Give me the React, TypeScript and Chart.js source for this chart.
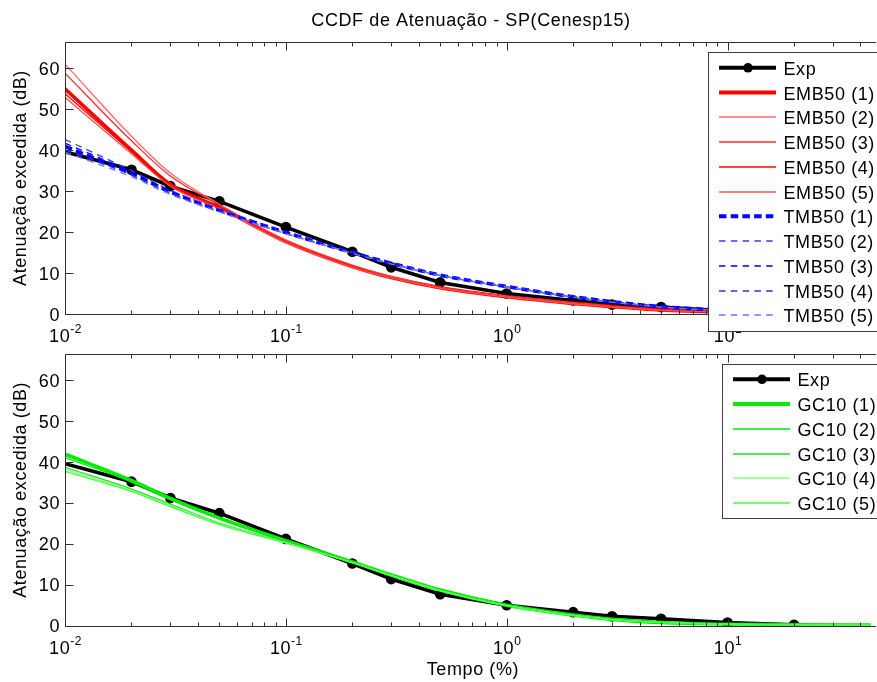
import React, { useEffect, useRef } from "react";
import { Chart, registerables } from "chart.js";

Chart.register(...registerables);

// ---------------- data ----------------
const expTime = [0.01, 0.02, 0.03, 0.05, 0.1, 0.2, 0.3, 0.5, 1, 2, 3, 5, 10, 20];
const expAtt = [39.6, 35.2, 31.2, 27.5, 21.2, 15.2, 11.4, 7.7, 5.0, 3.3, 2.3, 1.7, 0.75, 0.2];

const modelTime = [0.01, 0.02, 0.03, 0.05, 0.1, 0.2, 0.3, 0.5, 1, 2, 3, 5, 10, 20, 50];

const emb50_1 = [55.0, 40.0, 31.6, 26.0, 17.7, 11.6, 8.9, 6.4, 4.2, 2.6, 1.8, 1.0, 0.5, 0.25, 0.1];
const emb50_2 = [61.0, 43.4, 34.4, 26.8, 18.1, 11.9, 9.1, 6.5, 4.3, 2.7, 1.8, 1.0, 0.5, 0.25, 0.1];
const emb50_3 = [58.8, 42.3, 33.7, 26.6, 17.9, 11.8, 9.0, 6.5, 4.2, 2.6, 1.8, 1.0, 0.5, 0.25, 0.1];
const emb50_4 = [53.8, 39.6, 31.5, 25.9, 17.6, 11.5, 8.8, 6.3, 4.1, 2.6, 1.7, 1.0, 0.5, 0.25, 0.1];
const emb50_5 = [52.9, 39.1, 31.2, 25.7, 17.5, 11.4, 8.8, 6.3, 4.1, 2.5, 1.7, 0.9, 0.5, 0.2, 0.1];

const tmb50_1 = [40.9, 34.3, 29.8, 25.3, 19.9, 15.0, 12.4, 9.5, 6.7, 4.2, 3.0, 1.8, 0.9, 0.4, 0.15];
const tmb50_2 = [42.6, 35.0, 30.2, 25.6, 20.0, 15.1, 12.5, 9.6, 6.8, 4.3, 3.0, 1.8, 0.9, 0.4, 0.15];
const tmb50_3 = [41.7, 34.7, 30.0, 25.4, 19.9, 15.0, 12.4, 9.5, 6.7, 4.2, 3.0, 1.8, 0.9, 0.4, 0.15];
const tmb50_4 = [40.1, 33.9, 29.5, 25.1, 19.7, 14.9, 12.3, 9.4, 6.6, 4.1, 2.9, 1.7, 0.9, 0.4, 0.15];
const tmb50_5 = [39.5, 33.5, 29.2, 24.9, 19.6, 14.8, 12.2, 9.4, 6.6, 4.1, 2.9, 1.7, 0.8, 0.4, 0.15];

const gc10_1 = [41.9, 35.5, 31.1, 26.3, 20.8, 15.6, 12.4, 8.7, 5.0, 2.6, 1.55, 0.8, 0.35, 0.2, 0.15];
const gc10_2 = [41.1, 35.1, 30.8, 26.1, 20.7, 15.6, 12.4, 8.7, 5.0, 2.6, 1.5, 0.8, 0.35, 0.2, 0.15];
const gc10_3 = [38.7, 33.4, 29.7, 25.1, 20.4, 15.5, 12.3, 8.6, 4.9, 2.5, 1.5, 0.8, 0.35, 0.2, 0.15];
const gc10_4 = [38.2, 33.1, 29.4, 24.9, 20.3, 15.4, 12.3, 8.6, 4.9, 2.5, 1.5, 0.8, 0.35, 0.2, 0.15];
const gc10_5 = [37.7, 32.8, 29.1, 24.7, 20.2, 15.4, 12.2, 8.5, 4.9, 2.5, 1.5, 0.8, 0.35, 0.2, 0.15];

const xTickExponents = [-2, -1, 0, 1];
const yTicks = [0, 10, 20, 30, 40, 50, 60];

const titleText = "CCDF de Atenuação - SP(Cenesp15)";
const yTitleText = "Atenuação excedida (dB)";
const xTitleText = "Tempo (%)";

// ---------------- styling ----------------
const FONT = '"Liberation Sans", Arial, Helvetica, sans-serif';
const FS = 18;
const LS = 0.6;
const X_MIN = 0.01;
const X_MAX = 44.6;
const Y_MAX = 66.4;
const THICK = 3.6;
const THIN = 1.3;
const DASH_THICK = [7.5, 4.2];
const DASH_THIN = [6.5, 5.3];

function pts(xs: number[], ys: number[]) {
  return ys.map((y, i) => ({ x: xs[i], y }));
}

function expDataset() {
  return {
    label: "Exp",
    data: pts(expTime, expAtt),
    borderColor: "#000000",
    backgroundColor: "#000000",
    borderWidth: THICK,
    pointRadius: (c: any) => (c.dataIndex === 0 ? 0 : 4.6),
    pointBorderWidth: 1.5,
    pointStyle: "circle",
    tension: 0,
    legendMarker: true,
  };
}

function modelDataset(label: string, ys: number[], color: string, width: number, dash: number[]) {
  return {
    label,
    data: pts(modelTime, ys),
    borderColor: color,
    backgroundColor: color,
    borderWidth: width,
    borderDash: dash,
    pointRadius: 0,
    cubicInterpolationMode: "monotone",
  };
}

function setFont(ctx: CanvasRenderingContext2D, size: number, spacing: number) {
  ctx.font = `${size}px ${FONT}`;
  (ctx as any).letterSpacing = `${spacing}px`;
}

function drawPow10(ctx: CanvasRenderingContext2D, x: number, baseY: number, exp: number) {
  setFont(ctx, FS, LS);
  const wb = ctx.measureText("10").width;
  setFont(ctx, 12, 0.5);
  const sup = String(exp);
  const ws = ctx.measureText(sup).width;
  const start = x - (wb + ws) / 2 + 0.5;
  ctx.textAlign = "left";
  ctx.textBaseline = "alphabetic";
  setFont(ctx, FS, LS);
  ctx.fillText("10", start, baseY);
  setFont(ctx, 12, 0.5);
  ctx.fillText(sup, start + wb, baseY - 8.5);
}

const figurePlugin = {
  id: "figure",
  afterDraw(chart: any, _args: any, opts: any) {
    const { ctx, chartArea: a } = chart;
    const xs = chart.scales.x;
    const ys = chart.scales.y;
    ctx.save();
    ctx.setLineDash([]);
    ctx.strokeStyle = "#303030";
    ctx.lineWidth = 1;

    // frame (left, top, bottom)
    const L = Math.round(a.left) + 0.5;
    const T = Math.round(a.top) + 0.5;
    const B = Math.round(a.bottom) + 0.5;
    ctx.beginPath();
    ctx.moveTo(a.right + 5, T);
    ctx.lineTo(L, T);
    ctx.lineTo(L, B);
    ctx.lineTo(a.right + 5, B);
    ctx.stroke();

    // x ticks (major + minor), bottom and top, pointing inward
    ctx.beginPath();
    for (const e of xTickExponents) {
      for (let k = 1; k <= 9; k++) {
        const v = k * Math.pow(10, e);
        if (v < X_MIN - 1e-12 || v > X_MAX) continue;
        const px = Math.round(xs.getPixelForValue(v)) + 0.5;
        const len = k === 1 ? 8 : 4;
        ctx.moveTo(px, B);
        ctx.lineTo(px, B - len);
        ctx.moveTo(px, T);
        ctx.lineTo(px, T + len);
      }
    }
    // y ticks on left
    for (const v of yTicks) {
      const py = Math.round(ys.getPixelForValue(v)) + 0.5;
      ctx.moveTo(L, py);
      ctx.lineTo(L + 8, py);
    }
    ctx.stroke();

    ctx.fillStyle = "#000";
    // y tick labels
    setFont(ctx, FS, LS);
    ctx.textAlign = "right";
    ctx.textBaseline = "alphabetic";
    for (const v of yTicks) {
      const py = ys.getPixelForValue(v);
      ctx.fillText(String(v), a.left - 5, py + 6.5);
    }
    // x tick labels
    for (const e of xTickExponents) {
      const px = xs.getPixelForValue(Math.pow(10, e));
      drawPow10(ctx, px, a.bottom + 27.8, e);
    }

    // y axis title
    setFont(ctx, FS, LS);
    ctx.save();
    ctx.translate(26, (a.top + a.bottom) / 2);
    ctx.rotate(-Math.PI / 2);
    ctx.textAlign = "center";
    ctx.textBaseline = "alphabetic";
    ctx.fillText(yTitleText, 0, 0);
    ctx.restore();

    const cx = (a.left + a.right) / 2 + 3;
    if (opts.title) {
      setFont(ctx, FS, LS);
      ctx.textAlign = "center";
      ctx.textBaseline = "alphabetic";
      ctx.fillText(opts.title, cx, 26);
    }
    if (opts.xTitle) {
      setFont(ctx, FS, LS);
      ctx.textAlign = "center";
      ctx.textBaseline = "alphabetic";
      ctx.fillText(opts.xTitle, cx + 2, a.bottom + 49);
    }

    // legend
    const lg = opts.legend;
    if (lg) {
      const datasets = chart.data.datasets;
      ctx.fillStyle = "#ffffff";
      ctx.fillRect(lg.left, lg.top, 400, lg.height);
      ctx.strokeStyle = "#404040";
      ctx.lineWidth = 1;
      ctx.strokeRect(lg.left + 0.5, lg.top + 0.5, 400, lg.height);
      datasets.forEach((ds: any, i: number) => {
        const y = lg.firstRow + i * lg.step;
        const ly = ds.borderWidth < 2 ? Math.round(y) : y;
        ctx.save();
        ctx.strokeStyle = ds.borderColor;
        ctx.lineWidth = ds.borderWidth < 2 ? 1.5 : 4;
        ctx.setLineDash(ds.borderDash || []);
        ctx.lineCap = "butt";
        ctx.beginPath();
        ctx.moveTo(lg.left + 11, ly);
        ctx.lineTo(lg.left + 68, ly);
        ctx.stroke();
        if (ds.legendMarker) {
          ctx.fillStyle = ds.backgroundColor;
          ctx.beginPath();
          ctx.arc(lg.left + 40, y, 4.8, 0, Math.PI * 2);
          ctx.fill();
        }
        ctx.restore();
        ctx.fillStyle = "#000";
        setFont(ctx, FS, LS);
        ctx.textAlign = "left";
        ctx.textBaseline = "alphabetic";
        ctx.fillText(ds.label, lg.left + 75.5, y + 7);
      });
    }
    ctx.restore();
  },
};

function makeOptions(padding: any, figure: any) {
  return {
    animation: false,
    responsive: false,
    events: [],
    layout: { padding },
    plugins: {
      legend: { display: false },
      title: { display: false },
      tooltip: { enabled: false },
      figure,
    },
    scales: {
      x: { type: "logarithmic", min: X_MIN, max: X_MAX, display: false },
      y: { type: "linear", min: 0, max: Y_MAX, display: false },
    },
  };
}

function withOrder(list: any[]) {
  return list.map((d, i) => ({ ...d, order: list.length - i }));
}

export default function App() {
  const topRef = useRef<HTMLCanvasElement>(null);
  const botRef = useRef<HTMLCanvasElement>(null);

  useEffect(() => {
    const topDatasets = withOrder([
      expDataset(),
      modelDataset("EMB50 (1)", emb50_1, "#ff0000", THICK, []),
      modelDataset("EMB50 (2)", emb50_2, "#ff6a6a", THIN, []),
      modelDataset("EMB50 (3)", emb50_3, "#ff2a2a", THIN, []),
      modelDataset("EMB50 (4)", emb50_4, "#ff0000", THIN, []),
      modelDataset("EMB50 (5)", emb50_5, "#ff5050", THIN, []),
      modelDataset("TMB50 (1)", tmb50_1, "#0000ff", THICK, DASH_THICK),
      modelDataset("TMB50 (2)", tmb50_2, "#3a3aff", THIN, DASH_THIN),
      modelDataset("TMB50 (3)", tmb50_3, "#0000ff", THIN, DASH_THIN),
      modelDataset("TMB50 (4)", tmb50_4, "#3030dd", THIN, DASH_THIN),
      modelDataset("TMB50 (5)", tmb50_5, "#7070ff", THIN, DASH_THIN),
    ]);
    const botDatasets = withOrder([
      expDataset(),
      modelDataset("GC10 (1)", gc10_1, "#00ee00", THICK, []),
      modelDataset("GC10 (2)", gc10_2, "#00ee00", THIN, []),
      modelDataset("GC10 (3)", gc10_3, "#22dd22", THIN, []),
      modelDataset("GC10 (4)", gc10_4, "#80ff80", THIN, []),
      modelDataset("GC10 (5)", gc10_5, "#44ff44", THIN, []),
    ]);

    const top = new Chart(topRef.current as HTMLCanvasElement, {
      type: "line",
      data: { datasets: topDatasets as any },
      options: makeOptions(
        { left: 65, right: 0, top: 42, bottom: 36 },
        { title: titleText, legend: { left: 708, top: 52, height: 279, firstRow: 67.8, step: 24.75 } }
      ) as any,
      plugins: [figurePlugin as any],
    });
    const bot = new Chart(botRef.current as HTMLCanvasElement, {
      type: "line",
      data: { datasets: botDatasets as any },
      options: makeOptions(
        { left: 65, right: 0, top: 14, bottom: 56.3 },
        { xTitle: xTitleText, legend: { left: 722, top: 24, height: 154, firstRow: 39.3, step: 24.75 } }
      ) as any,
      plugins: [figurePlugin as any],
    });
    return () => {
      top.destroy();
      bot.destroy();
    };
  }, []);

  return (
    <div
      style={{
        position: "fixed",
        left: 0,
        top: 0,
        width: 877,
        height: 682,
        overflow: "hidden",
        background: "#ffffff",
      }}
    >
      <canvas
        ref={topRef}
        width={877}
        height={350}
        style={{ position: "absolute", left: 0, top: 0, width: 877, height: 350 }}
      />
      <canvas
        ref={botRef}
        width={877}
        height={342}
        style={{ position: "absolute", left: 0, top: 340, width: 877, height: 342 }}
      />
    </div>
  );
}
